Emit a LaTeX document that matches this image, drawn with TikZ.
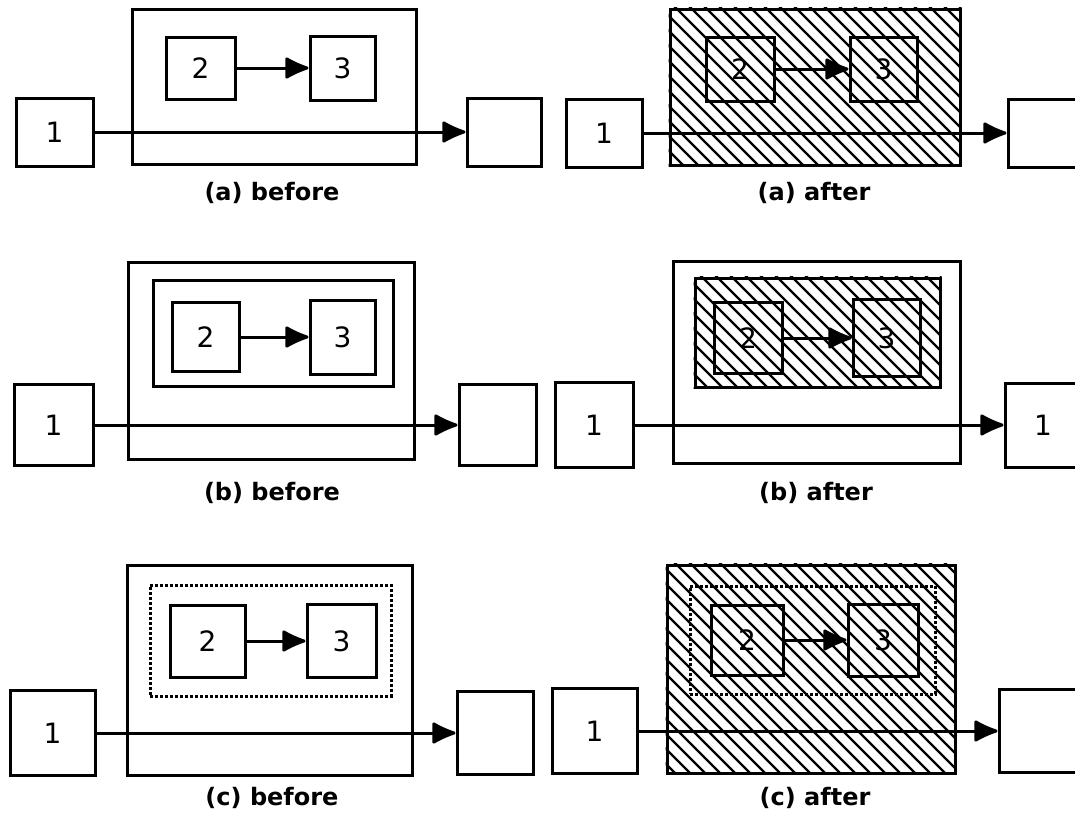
\documentclass[tikz,border=0pt]{standalone}
\usepackage{fontspec}
\usepackage{tikz}
\usetikzlibrary{arrows.meta}
\newfontfamily\capfont{DejaVu Sans}
\newfontfamily\digfont{DejaVu Sans}
% hatch the inside of a named rectangle node
\newcommand{\hatchin}[1]{%
  \begin{scope}
    \clip (#1.north west) rectangle (#1.south east);
    \foreach \k in {-330,-315,...,330}
      \draw[line width=2.4pt] ([xshift=\k pt]#1.center) ++(-260,-260) -- ++(520,520);
  \end{scope}}

\begin{document}
\begin{tikzpicture}[x=1pt,y=-1pt,
    blk/.style 2 args={draw,line width=3pt,inner sep=0pt,
      minimum width=#1pt,minimum height=#2pt,
      font=\digfont\fontsize{28}{30}\selectfont},
    frame/.style 2 args={draw,line width=3pt,inner sep=0pt,
      minimum width=#1pt,minimum height=#2pt},
    dotframe/.style 2 args={draw,line width=3pt,dash pattern=on 2.6pt off 2.4pt,
      inner sep=0pt,minimum width=#1pt,minimum height=#2pt},
    flow/.style={line width=3pt,-{Latex[length=27pt,width=24pt,round]}},
    tag/.style={font=\capfont\bfseries\fontsize{24}{26}\selectfont}]
  \useasboundingbox (0,0) rectangle (1075,819);

  % (a) before
  \node[frame={284}{155}] (aBo) at (274,86.5) {};
  \node[blk={77}{68}] (aB1) at (54.5,132) {1};
  \node[blk={69}{62}] (aB2) at (200.5,68) {2};
  \node[blk={65}{64}] (aB3) at (342.5,68) {3};
  \node[blk={74}{68}] (aB4) at (504,132) {};
  \draw[flow] (aB2.east) -- (aB3.west);
  \draw[flow] (aB1.east) -- (aB4.west);
  \node[tag] (aBl) at (272,193) {(a) before};

  % (a) after
  \node[frame={290}{156}] (aAo) at (815,87) {};
  \hatchin{aAo}
  \node[blk={76}{68}] (aA1) at (604,133) {1};
  \node[blk={68}{64}] (aA2) at (740,69) {2};
  \node[blk={67}{64}] (aA3) at (883.5,69) {3};
  \node[blk={74}{68}] (aA4) at (1045,133) {};
  \draw[flow] (aA2.east) -- (aA3.west);
  \draw[flow] (aA1.east) -- (aA4.west);
  \node[tag] (aAl) at (814,193) {(a) after};

  % (b) before
  \node[frame={286}{197}] (bBo) at (271,360.5) {};
  \node[frame={240}{106}] (bBi) at (273,333) {};
  \node[blk={79}{81}] (bB1) at (53.5,425) {1};
  \node[blk={67}{69}] (bB2) at (205.5,337) {2};
  \node[blk={65}{74}] (bB3) at (342.5,337) {3};
  \node[blk={77}{81}] (bB4) at (497.5,425) {};
  \draw[flow] (bB2.east) -- (bB3.west);
  \draw[flow] (bB1.east) -- (bB4.west);
  \node[tag] (bBl) at (272,493) {(b) before};

  % (b) after
  \node[frame={287}{202}] (bAo) at (816.5,362) {};
  \node[frame={245}{109}] (bAi) at (817.5,332.5) {};
  \hatchin{bAi}
  \node[blk={78}{85}] (bA1) at (594,425) {1};
  \node[blk={68}{71}] (bA2) at (748,338) {2};
  \node[blk={67}{77}] (bA3) at (886.5,338) {3};
  \node[blk={76}{84}] (bA4) at (1043,425) {1};
  \draw[flow] (bA2.east) -- (bA3.west);
  \draw[flow] (bA1.east) -- (bA4.west);
  \node[tag] (bAl) at (816,493) {(b) after};

  % (c) before
  \node[frame={285}{210}] (cBo) at (269.5,670) {};
  \node[dotframe={241}{111}] (cBi) at (270.5,640.5) {};
  \node[blk={85}{85}] (cB1) at (52.5,733) {1};
  \node[blk={75}{72}] (cB2) at (207.5,641) {2};
  \node[blk={69}{73}] (cB3) at (341.5,641) {3};
  \node[blk={76}{83}] (cB4) at (495,733) {};
  \draw[flow] (cB2.east) -- (cB3.west);
  \draw[flow] (cB1.east) -- (cB4.west);
  \node[tag] (cBl) at (272,798) {(c) before};

  % (c) after
  \node[frame={288}{208}] (cAo) at (811,669) {};
  \hatchin{cAo}
  \node[dotframe={245}{108}] (cAi) at (812.5,640) {};
  \node[blk={85}{85}] (cA1) at (594.5,731) {1};
  \node[blk={72}{70}] (cA2) at (747,640) {2};
  \node[blk={70}{72}] (cA3) at (883,640) {3};
  \node[blk={80}{83}] (cA4) at (1039,731) {};
  \draw[flow] (cA2.east) -- (cA3.west);
  \draw[flow] (cA1.east) -- (cA4.west);
  \node[tag] (cAl) at (815,798) {(c) after};
\end{tikzpicture}
\end{document}
